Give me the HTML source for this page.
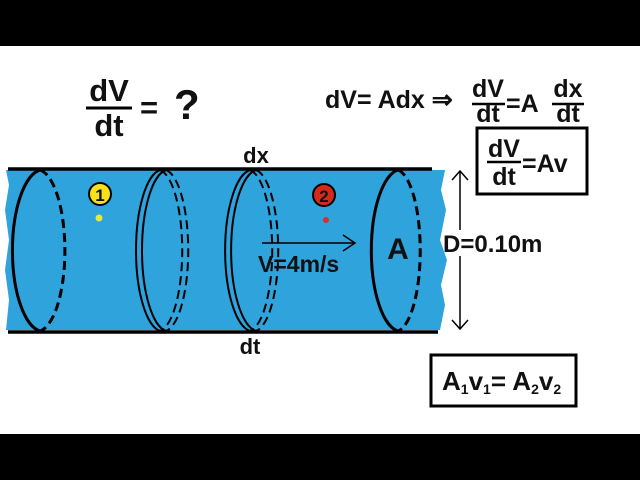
<!DOCTYPE html>
<html><head><style>
html,body{margin:0;padding:0;background:#fff;}
svg{display:block;}
text{font-family:"Liberation Sans",Arial,sans-serif;font-weight:bold;fill:#111;}
</style></head><body>
<svg width="640" height="480" viewBox="0 0 640 480" xmlns="http://www.w3.org/2000/svg">
<rect x="0" y="0" width="640" height="46" fill="#000"/>
<rect x="0" y="434" width="640" height="46" fill="#000"/>
<path d="M6 170 L445 170 L441 190 L446 210 L440 240 L447 260 L441 285 L445 305 L440 330 L6 330 L9 300 L5 270 L9 240 L5 210 L9 185 Z" fill="#2fa3dc"/>
<line x1="8" y1="169" x2="432" y2="169" stroke="#000" stroke-width="3.5"/>
<line x1="8" y1="332" x2="438" y2="332" stroke="#000" stroke-width="3.5"/>
<g fill="none" stroke="#000" stroke-width="3">
<path d="M40 170 A31 81 0 0 0 40 331"/>
<path d="M40 170 A28 81 0 0 1 40 331" stroke-dasharray="9 5"/>
<path d="M160 170 A27 81 0 0 0 160 331" stroke-width="2"/>
<path d="M166 170 A27 81 0 0 0 166 331" stroke-width="2"/>
<path d="M160 170 A25 81 0 0 1 160 331" stroke-width="2" stroke-dasharray="9 5"/>
<path d="M166 170 A25 81 0 0 1 166 331" stroke-width="2" stroke-dasharray="9 5"/>
<path d="M250 170 A28 81 0 0 0 250 331" stroke-width="2"/>
<path d="M256 170 A28 81 0 0 0 256 331" stroke-width="2"/>
<path d="M250 170 A25 81 0 0 1 250 331" stroke-width="2" stroke-dasharray="9 5"/>
<path d="M256 170 A25 81 0 0 1 256 331" stroke-width="2" stroke-dasharray="9 5"/>
<path d="M398 170 A30 81 0 0 0 398 331"/>
<path d="M398 170 A25 81 0 0 1 398 331" stroke-dasharray="9 5"/>
</g>
<circle cx="100" cy="194" r="11" fill="#f5e21a" stroke="#000" stroke-width="2"/>
<text x="100" y="201" font-size="17" text-anchor="middle">1</text>
<circle cx="99" cy="218" r="3.5" fill="#e8e83a"/>
<circle cx="324" cy="195" r="11" fill="#d42a1e" stroke="#000" stroke-width="2"/>
<text x="324" y="202" font-size="17" text-anchor="middle">2</text>
<circle cx="326" cy="220" r="3" fill="#d43030"/>
<line x1="262" y1="243" x2="354" y2="243" stroke="#000" stroke-width="1.5"/>
<path d="M343 235 L355 243 L343 251" fill="none" stroke="#000" stroke-width="1.5"/>
<text x="258" y="272" font-size="23">V=4m/s</text>
<text x="398" y="259" font-size="30" text-anchor="middle">A</text>
<text x="256" y="163" font-size="22" text-anchor="middle">dx</text>
<text x="250" y="354" font-size="22" text-anchor="middle">dt</text>
<line x1="460" y1="172" x2="460" y2="230" stroke="#000" stroke-width="1.5"/>
<line x1="460" y1="256" x2="460" y2="329" stroke="#000" stroke-width="1.5"/>
<path d="M452 180 L460 171 L468 180" fill="none" stroke="#000" stroke-width="1.5"/>
<path d="M452 320 L460 329 L468 320" fill="none" stroke="#000" stroke-width="1.5"/>
<text x="443" y="252" font-size="24">D=0.10m</text>
<text x="109" y="101" font-size="31" text-anchor="middle">dV</text>
<line x1="86" y1="108" x2="132" y2="108" stroke="#000" stroke-width="3"/>
<text x="109" y="136" font-size="31" text-anchor="middle">dt</text>
<text x="140" y="118" font-size="31">=</text>
<text x="174" y="119" font-size="42">?</text>
<text x="325" y="108" font-size="25">dV= Adx ⇒</text>
<text x="488" y="97" font-size="25" text-anchor="middle">dV</text>
<line x1="472" y1="104" x2="505" y2="104" stroke="#000" stroke-width="2.5"/>
<text x="488" y="122" font-size="25" text-anchor="middle">dt</text>
<text x="506" y="112" font-size="25">=A</text>
<text x="568" y="97" font-size="25" text-anchor="middle">dx</text>
<line x1="552" y1="104" x2="584" y2="104" stroke="#000" stroke-width="2.5"/>
<text x="568" y="122" font-size="25" text-anchor="middle">dt</text>
<rect x="477" y="128" width="110" height="66" fill="none" stroke="#000" stroke-width="3"/>
<text x="504" y="157" font-size="25" text-anchor="middle">dV</text>
<line x1="487" y1="162" x2="521" y2="162" stroke="#000" stroke-width="2.5"/>
<text x="504" y="185" font-size="25" text-anchor="middle">dt</text>
<text x="522" y="172" font-size="25">=Av</text>
<rect x="431" y="355" width="145" height="51" fill="none" stroke="#000" stroke-width="3"/>
<text x="442" y="390" font-size="26">A<tspan font-size="14" dy="4">1</tspan><tspan dy="-4">v</tspan><tspan font-size="14" dy="4">1</tspan><tspan dy="-4">= A</tspan><tspan font-size="14" dy="4">2</tspan><tspan dy="-4">v</tspan><tspan font-size="14" dy="4">2</tspan></text>
</svg>
</body></html>
